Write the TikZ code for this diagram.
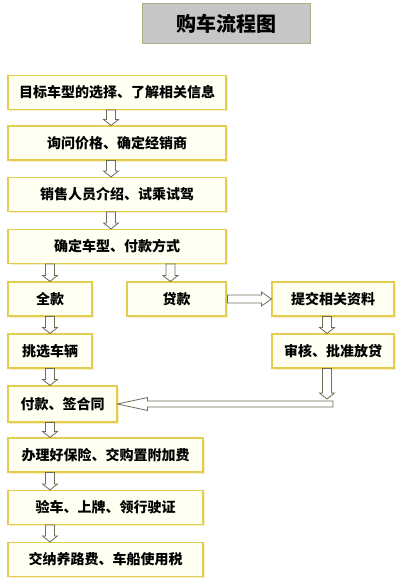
\documentclass[tikz,border=0pt]{standalone}
\usepackage{fontspec}
\newfontfamily\cjk{Noto Sans CJK SC}
\usepackage{tikz}
\usetikzlibrary{calc, shadows}
\definecolor{boxfill}{HTML}{FFFFF2}
\definecolor{boxline}{HTML}{E4CC50}
\definecolor{titlefill}{HTML}{C6C6C6}
\definecolor{titleline}{HTML}{B4AE84}
\definecolor{arrowline}{HTML}{6E6E58}
\def\hashaft{4.5pt}
\def\hahead{6pt}
\def\hahalf{7.5pt}
\tikzstyle{stepbox} = [
  rectangle, draw=boxline, fill=boxfill, line width=1.1pt,
  minimum height=34pt, inner sep=0pt, text centered,
  font=\cjk\bfseries\fontsize{14pt}{16pt}\selectfont,
  drop shadow={shadow xshift=1.5pt, shadow yshift=-1.5pt, fill=boxline!45, opacity=0.7}
]
\tikzstyle{titlebox} = [
  rectangle, draw=titleline, fill=titlefill, line width=1pt,
  minimum width=168pt, minimum height=40pt, inner sep=0pt,
  font=\cjk\bfseries\fontsize{20pt}{22pt}\selectfont
]
\tikzstyle{blockarrow} = [
  draw=arrowline, fill=white, line width=0.8pt, line join=miter,
  to path={
    -- ($(\tikztostart)!\hashaft!90:(\tikztotarget)$)
    -- ($($(\tikztotarget)!\hahead!(\tikztostart)$)!\hashaft!90:(\tikztotarget)$)
    -- ($($(\tikztotarget)!\hahead!(\tikztostart)$)!\hahalf!90:(\tikztotarget)$)
    -- (\tikztotarget)
    -- ($($(\tikztotarget)!\hahead!(\tikztostart)$)!\hahalf!-90:(\tikztotarget)$)
    -- ($($(\tikztotarget)!\hahead!(\tikztostart)$)!\hashaft!-90:(\tikztotarget)$)
    -- ($(\tikztostart)!\hashaft!-90:(\tikztotarget)$)
    -- cycle}
]
\tikzstyle{sidearrow} = [blockarrow, /utils/exec={\def\hashaft{4pt}\def\hahead{10pt}\def\hahalf{7pt}}]
\tikzstyle{longarrow} = [blockarrow, /utils/exec={\def\hashaft{3pt}\def\hahead{30pt}\def\hahalf{6.5pt}}]

\begin{document}
\begin{tikzpicture}[x=1pt, y=1pt]
  \useasboundingbox (0,0) rectangle (401,-586);

  % Title
  \node[titlebox] (title) at (226,-24) {购车流程图};

  % Common steps
  \node[stepbox, minimum width=218pt] (choose) at (117,-92.5) {目标车型的选择、了解相关信息};
  \node[stepbox, minimum width=218pt] (price) at (117,-143) {询问价格、确定经销商};
  \node[stepbox, minimum width=218pt] (drive) at (117,-194.5) {销售人员介绍、试乘试驾};
  \node[stepbox, minimum width=218pt] (decide) at (117,-246.5) {确定车型、付款方式};

  % Full payment branch
  \node[stepbox, minimum width=84pt] (full) at (50,-299) {全款};
  \node[stepbox, minimum width=84pt] (pick) at (50,-351) {挑选车辆};

  % Loan branch
  \node[stepbox, minimum width=99pt] (loan) at (176.5,-299) {贷款};
  \node[stepbox, minimum width=122pt] (submit) at (333,-299) {提交相关资料};
  \node[stepbox, minimum width=122pt] (review) at (333,-351) {审核、批准放贷};

  % Final steps
  \node[stepbox, minimum width=109pt, minimum height=36pt] (pay) at (62.5,-404) {付款、签合同};
  \node[stepbox, minimum width=195pt] (insure) at (105.5,-455) {办理好保险、交购置附加费};
  \node[stepbox, minimum width=195pt] (inspect) at (105.5,-507.5) {验车、上牌、领行驶证};
  \node[stepbox, minimum width=195pt] (tax) at (105.5,-559.5) {交纳养路费、车船使用税};

  \coordinate (bend) at (review.south |- pay.east);

  % Connections - common steps
  \draw[blockarrow] ([xshift=-6pt]choose.south) to ([xshift=-6pt]price.north);
  \draw[blockarrow] ([xshift=-6pt]price.south) to ([xshift=-6pt]drive.north);
  \draw[blockarrow] ([xshift=-6pt]drive.south) to ([xshift=-6pt]decide.north);

  % Payment choice
  \draw[blockarrow] (full.north |- decide.south) to (full.north);
  \draw[blockarrow] ([xshift=-6pt]loan.north |- decide.south) to ([xshift=-6pt]loan.north);
  \draw[blockarrow] (full.south) to (pick.north);
  \draw[blockarrow] (pick.south) to (pick.south |- pay.north);

  % Loan procedure
  \draw[sidearrow] ([xshift=1pt]loan.east) to (submit.west);
  \draw[blockarrow] ([xshift=-6pt]submit.south) to ([xshift=-6pt]review.north);
  \draw[blockarrow] ([xshift=-6pt]review.south) to ([xshift=-6pt, yshift=5pt]bend);
  \draw[longarrow] (bend) to (pay.east);

  % Connections - final steps
  \draw[blockarrow] (pick.south |- pay.south) to (pick.south |- insure.north);
  \draw[blockarrow] (pick.south |- insure.south) to (pick.south |- inspect.north);
  \draw[blockarrow] (pick.south |- inspect.south) to (pick.south |- tax.north);

\end{tikzpicture}
\end{document}
